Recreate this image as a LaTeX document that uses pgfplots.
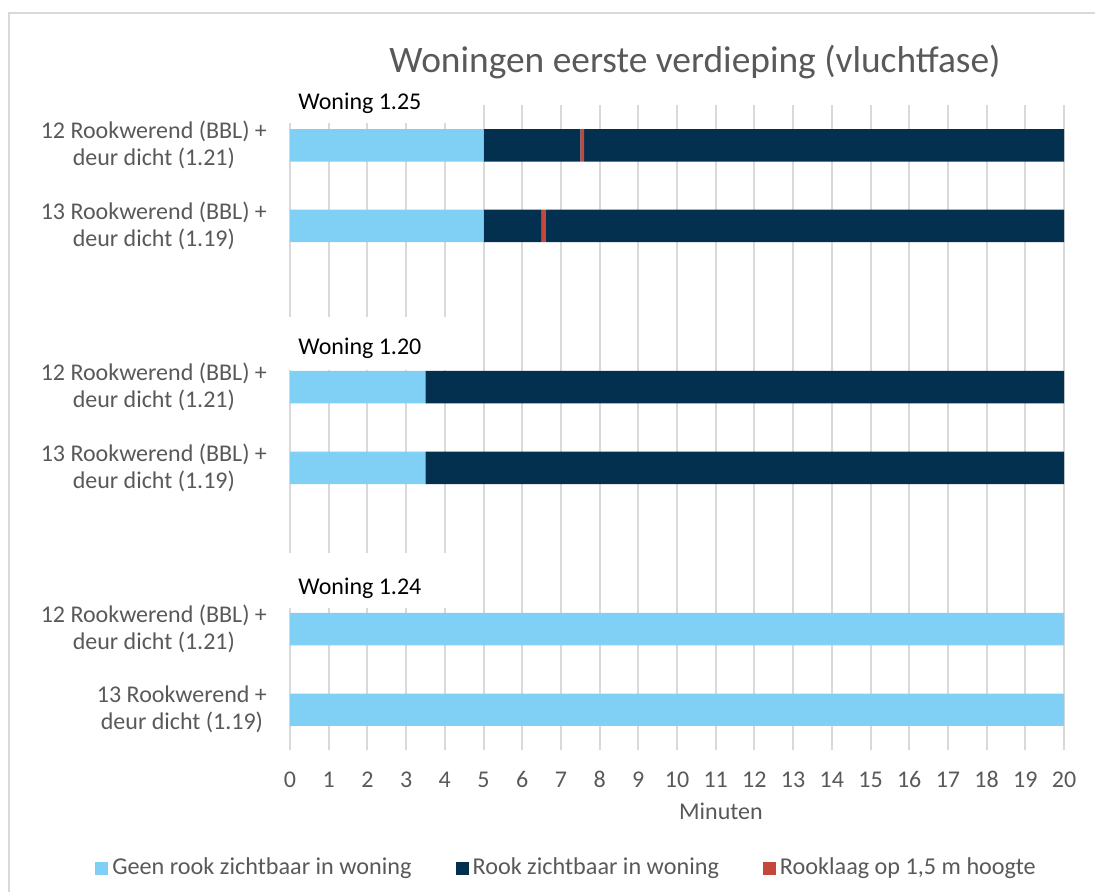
\documentclass[border=0pt]{standalone}
\usepackage{fontspec}
\setmainfont{Carlito}
\usepackage{pgfplots}
\pgfplotsset{compat=1.18}
\definecolor{lblue}{HTML}{7FD0F4}
\definecolor{navy}{HTML}{02304E}
\definecolor{rred}{HTML}{C4473A}
\definecolor{txtgray}{HTML}{595959}
\definecolor{gridgray}{HTML}{D9D9D9}
\begin{document}
\begin{tikzpicture}
\useasboundingbox (0,0) rectangle (547.5pt,445.5pt);
\draw[gridgray, line width=1pt] (4.5pt,-5pt) -- (4.5pt,439pt) -- (560pt,439pt);
\begin{axis}[
  at={(145pt,70.5pt)}, anchor=south west,
  width=387pt, height=322.5pt, scale only axis,
  xbar stacked, bar width=16.2pt,
  xmin=0, xmax=20, ymin=-0.5, ymax=7.5,
  xtick={0,...,20}, ytick={0,1,3,4,6,7},
  yticklabels={{13 Rookwerend +\\deur dicht (1.19)},
               {12 Rookwerend (BBL) +\\deur dicht (1.21)},
               {13 Rookwerend (BBL) +\\deur dicht (1.19)},
               {12 Rookwerend (BBL) +\\deur dicht (1.21)},
               {13 Rookwerend (BBL) +\\deur dicht (1.19)},
               {12 Rookwerend (BBL) +\\deur dicht (1.21)}},
  xmajorgrids, ymajorgrids=false,
  major grid style={gridgray, line width=1pt},
  axis line style={draw=none},
  major tick length=0pt,
  tick label style={font=\fontsize{12}{13.5}\selectfont, text=txtgray},
  xticklabel style={anchor=base, yshift=-18.5pt},
  yticklabel style={align=center, font=\fontsize{12}{13.5}\selectfont, xshift=-8pt},
  /pgf/number format/assume math mode=true,
  clip=false,
  legend columns=3,
  legend style={at={(-0.252,-0.183)}, anchor=west, draw=none, fill=none,
    inner sep=0pt, font=\fontsize{12.1}{14}\selectfont, text=txtgray,
    /tikz/every even column/.append style={column sep=20pt}},
  legend image code/.code={\fill[#1] (0pt,-3.25pt) rectangle (6.5pt,3.25pt);},
]
\addplot[fill=lblue, draw=none] coordinates {(20,0) (20,1) (3.5,3) (3.5,4) (5,6) (5,7)};
\addplot[fill=navy, draw=none] coordinates {(0,0) (0,1) (16.5,3) (16.5,4) (1.5,6) (2.5,7)};
\addplot[fill=rred, draw=none] coordinates {(0,0) (0,1) (0,3) (0,4) (0.1,6) (0.1,7)};
\addplot[fill=navy, draw=none] coordinates {(0,0) (0,1) (0,3) (0,4) (13.4,6) (12.4,7)};
\legend{Geen rook zichtbaar in woning, Rook zichtbaar in woning, {Rooklaag op 1,5 m hoogte}}
\end{axis}
% white boxes behind the group labels (they interrupt the gridlines)
\fill[white] (143pt,384pt) rectangle (232pt,410pt);
\fill[white] (143pt,260.5pt) rectangle (232pt,287pt);
\fill[white] (143pt,141.7pt) rectangle (232pt,169pt);
\node[anchor=west, inner sep=0pt, font=\fontsize{12}{14}\selectfont] at (149pt,394pt) {Woning 1.25};
\node[anchor=west, inner sep=0pt, font=\fontsize{12}{14}\selectfont] at (149pt,271.5pt) {Woning 1.20};
\node[anchor=west, inner sep=0pt, font=\fontsize{12}{14}\selectfont] at (149pt,151.5pt) {Woning 1.24};
\node[text=txtgray, font=\fontsize{18.7}{21}\selectfont] at (347.5pt,414.5pt) {Woningen eerste verdieping (vluchtfase)};
\node[text=txtgray, font=\fontsize{12}{14}\selectfont] at (360.5pt,40pt) {Minuten};
\end{tikzpicture}
\end{document}
